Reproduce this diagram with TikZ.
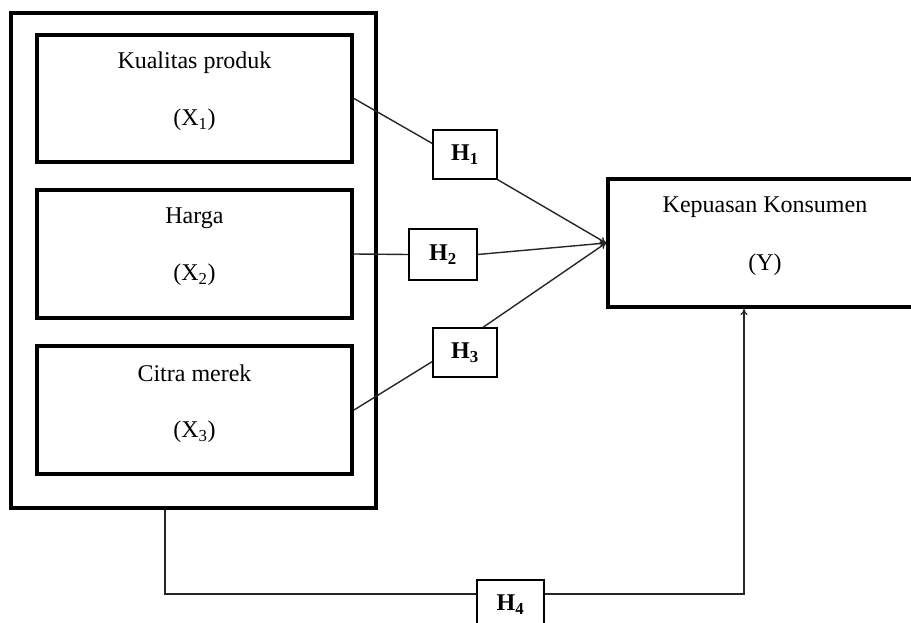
\documentclass[tikz,border=0pt]{standalone}
\usepackage{fontspec}
\setmainfont{Liberation Serif}
\usetikzlibrary{arrows.meta}
\begin{document}
\begin{tikzpicture}[x=1pt,y=-1pt,
  thick box/.style={draw=black,line width=4pt,inner sep=0pt},
  hbox/.style={draw=black,line width=1.3pt,inner sep=0pt,minimum width=64pt,minimum height=49pt,font=\fontsize{24}{28}\selectfont\bfseries},
  lbl/.style={inner sep=0pt,font=\fontsize{24}{28}\selectfont},
  conn/.style={draw=black!85,line width=1.4pt},
  arr/.style={conn,-{To[length=6pt,width=7pt]}}]
\useasboundingbox (0,0) rectangle (911,623);
% outer box
\node[thick box,minimum width=365pt,minimum height=495pt] (outer) at (193.5,260.5) {};
% inner boxes
\node[thick box,minimum width=315pt,minimum height=127pt] (b1) at (194.5,98.5) {};
\node[thick box,minimum width=315pt,minimum height=128pt] (b2) at (194.5,254) {};
\node[thick box,minimum width=315pt,minimum height=128pt] (b3) at (194.5,410) {};
\node[lbl] (t1a) at (194.5,63) {Kualitas produk};
\node[lbl] (t1b) at (194.5,120) {(X\textsubscript{1})};
\node[lbl] (t2a) at (194.5,218) {Harga};
\node[lbl] (t2b) at (194.5,275) {(X\textsubscript{2})};
\node[lbl] (t3a) at (194.5,373) {Citra merek};
\node[lbl] (t3b) at (194.5,432) {(X\textsubscript{3})};
% dependent variable
\node[thick box,minimum width=307pt,minimum height=128pt] (Y) at (761.5,243) {};
\node[lbl] (ya) at (765,207) {Kepuasan Konsumen};
\node[lbl] (yb) at (765,265) {(Y)};
% hypothesis boxes
\node[hbox] (h1) at (465,154.5) {H\textsubscript{1}};
\node[hbox,minimum width=68pt,minimum height=51pt] (h2) at (443,254.5) {H\textsubscript{2}};
\node[hbox] (h3) at (465,352.5) {H\textsubscript{3}};
\node[hbox,minimum width=67pt,minimum height=50pt] (h4) at (510.5,605) {H\textsubscript{4}};
% connectors
\draw[conn] (b1.east) -- ([yshift=11pt]h1.west);
\draw[arr] (h1.south east) -- (Y.west);
\draw[conn] (b2.east) -- (h2.west);
\draw[arr] (h2.east) -- (Y.west);
\draw[conn] (b3.east) -- ([yshift=-9pt]h3.west);
\draw[arr] ([xshift=18pt]h3.north) -- (Y.west);
\coordinate (c1) at (165,594);
\coordinate (c2) at (744,594);
\draw[conn] (outer.south -| c1) -- (c1) -- (c1 -| h4.west);
\draw[arr] (h4.east |- c2) -- (c2) -- (Y.south -| c2);
\end{tikzpicture}
\end{document}
